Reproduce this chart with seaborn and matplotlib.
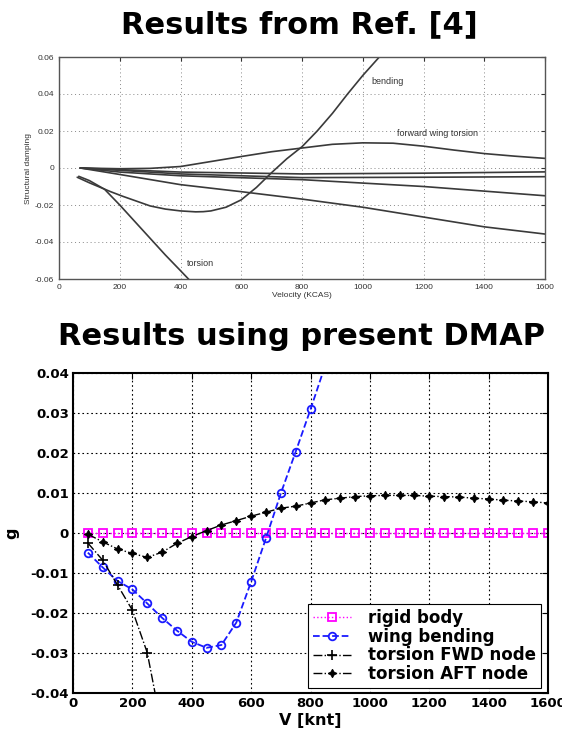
import numpy as np
import pandas as pd
import matplotlib
matplotlib.use('Agg')
import matplotlib.pyplot as plt
import seaborn as sns

# --- top panel: curves read from Ref. [4] (gray scan) ---
ref_bending_v = [60, 100, 170, 210, 300, 350, 400, 450, 475, 500, 550, 600, 650, 700, 750, 800, 850, 900, 950, 1000, 1060]
ref_bending_g = [-0.005, -0.008, -0.0128, -0.0153, -0.0205, -0.0222, -0.0232, -0.0237, -0.0236, -0.0232, -0.0212, -0.0172, -0.0105, -0.0025, 0.005, 0.0115, 0.020, 0.0295, 0.040, 0.050, 0.061]

ref_torsion_v = [65, 100, 150, 200, 250, 300, 350, 400, 435]
ref_torsion_g = [-0.0045, -0.0068, -0.0115, -0.020, -0.029, -0.038, -0.047, -0.0555, -0.0615]

ref_fwd_v = [70, 200, 300, 400, 500, 600, 700, 800, 900, 1000, 1100, 1200, 1300, 1400, 1500, 1600]
ref_fwd_g = [0.0, -0.0004, -0.0002, 0.0008, 0.0035, 0.0062, 0.0088, 0.0108, 0.0128, 0.0136, 0.0134, 0.0118, 0.0097, 0.0078, 0.0064, 0.0052]

ref_m1_v = [70, 400, 800, 1200, 1600]
ref_m1_g = [0.0, -0.0022, -0.0032, -0.0028, -0.0021]

ref_m2_v = [70, 400, 800, 1200, 1600]
ref_m2_g = [0.0, -0.0032, -0.0052, -0.0050, -0.0047]

ref_m3_v = [70, 200, 400, 800, 1200, 1600]
ref_m3_g = [0.0, -0.0022, -0.0042, -0.0063, -0.0100, -0.0150]

ref_m4_v = [70, 200, 400, 600, 800, 1000, 1200, 1400, 1600]
ref_m4_g = [0.0, -0.0035, -0.0090, -0.0128, -0.0168, -0.0212, -0.0265, -0.0318, -0.0357]

# --- bottom panel: present DMAP results ---
v_knt = np.arange(50, 1601, 50)
rigid_g = np.zeros(len(v_knt))

bend_v = [50, 100, 150, 200, 250, 300, 350, 400, 450, 500, 550, 600, 650, 700, 750, 800, 850]
bend_g = [-0.0049, -0.0086, -0.0120, -0.0141, -0.0176, -0.0212, -0.0244, -0.0272, -0.0287, -0.0280,
          -0.0224, -0.0122, -0.0013, 0.0099, 0.0203, 0.0309, 0.0420]

fwd_v = [50, 100, 150, 200, 250, 300]
fwd_g = [-0.0025, -0.0068, -0.0130, -0.0193, -0.0299, -0.0490]

aft_g = [-0.0003, -0.0022, -0.0040, -0.0051, -0.0061, -0.0048, -0.0026, -0.0009, 0.0006, 0.0020,
         0.0031, 0.0042, 0.0052, 0.0062, 0.0067, 0.0075, 0.0083, 0.0087, 0.0091, 0.0093,
         0.0094, 0.0094, 0.0094, 0.0092, 0.0091, 0.0090, 0.0087, 0.0085, 0.0082, 0.0080,
         0.0078, 0.0075]

sns.set_style('white')
plt.rcParams['font.family'] = ['DejaVu Sans']
plt.rcParams['text.color'] = 'black'
plt.rcParams['axes.labelcolor'] = 'black'
plt.rcParams['xtick.color'] = 'black'
plt.rcParams['ytick.color'] = 'black'

fig = plt.figure(figsize=(5.62, 7.36), dpi=100)

# ---------------- top panel ----------------
ax1 = fig.add_axes([59 / 562, 1 - 279 / 736, (545 - 59) / 562, (279 - 57) / 736])
gray = '#3a3a3a'
for vv, gg in [(ref_bending_v, ref_bending_g), (ref_torsion_v, ref_torsion_g), (ref_fwd_v, ref_fwd_g),
               (ref_m1_v, ref_m1_g), (ref_m2_v, ref_m2_g), (ref_m3_v, ref_m3_g), (ref_m4_v, ref_m4_g)]:
    sns.lineplot(x=vv, y=gg, ax=ax1, color=gray, linewidth=1.2, sort=False, estimator=None)
ax1.set_xlim(0, 1600)
ax1.set_ylim(-0.06, 0.06)
ax1.set_xticks(range(0, 1601, 200))
ax1.set_yticks([-0.06, -0.04, -0.02, 0, 0.02, 0.04, 0.06])
ax1.set_yticklabels(['-0.06', '-0.04', '-0.02', '0', '0.02', '0.04', '0.06'])
ax1.grid(True, linestyle=(0, (1, 3)), color='#888888', linewidth=0.7)
ax1.tick_params(direction='in', length=3, labelsize=6, colors='#333333', top=True, right=True,
                labelfontfamily='Liberation Sans')
for sp in ax1.spines.values():
    sp.set_color('#555555')
    sp.set_linewidth(1.0)
ax1.set_xlabel('Velocity (KCAS)', fontsize=6, family='Liberation Sans', color='#333333', labelpad=1)
ax1.set_ylabel('Structural damping', fontsize=6, family='Liberation Sans', color='#333333', labelpad=2)
ax1.text(1030, 0.0468, 'bending', fontsize=6.5, family='Liberation Sans', color='#333333', va='center')
ax1.text(1114, 0.0184, 'forward wing torsion', fontsize=6.5, family='Liberation Sans', color='#333333', va='center')
ax1.text(421, -0.0514, 'torsion', fontsize=6.5, family='Liberation Sans', color='#333333', va='center')

fig.text(299 / 562, 1 - 25 / 736, 'Results from Ref. [4]', ha='center', va='center',
         fontsize=22, fontweight='bold', color='black')

# ---------------- bottom panel ----------------
ax2 = fig.add_axes([73 / 562, 1 - 693 / 736, (548 - 73) / 562, (693 - 373) / 736])
sns.lineplot(x=v_knt, y=rigid_g, ax=ax2, color='#ff00ff', linestyle=':', linewidth=1.0,
             marker='s', markersize=6, markerfacecolor='none', markeredgecolor='#ff00ff',
             markeredgewidth=1.3, label='rigid body')
sns.lineplot(x=bend_v, y=bend_g, ax=ax2, color='#1a1aff', linestyle='--', linewidth=1.3,
             marker='o', markersize=5.5, markerfacecolor='none', markeredgecolor='#1a1aff',
             markeredgewidth=1.3, label='wing bending')
sns.lineplot(x=fwd_v, y=fwd_g, ax=ax2, color='black', linestyle='-.', linewidth=1.0,
             marker='+', markersize=7, markeredgecolor='black', markeredgewidth=1.2,
             label='torsion FWD node')
sns.lineplot(x=v_knt, y=aft_g, ax=ax2, color='black', linestyle='-.', linewidth=1.0,
             marker=(4, 1, 0), markersize=6, markerfacecolor='black', markeredgecolor='black',
             label='torsion AFT node')
ax2.set_xlim(0, 1600)
ax2.set_ylim(-0.04, 0.04)
ax2.set_xticks(range(0, 1601, 200))
ax2.set_yticks([-0.04, -0.03, -0.02, -0.01, 0, 0.01, 0.02, 0.03, 0.04])
ax2.set_yticklabels(['-0.04', '-0.03', '-0.02', '-0.01', '0', '0.01', '0.02', '0.03', '0.04'])
ax2.grid(True, linestyle=(0, (1.5, 2.5)), color='black', linewidth=0.8)
ax2.tick_params(direction='in', length=4, labelsize=9.5, top=True, right=True, pad=3)
for lab in ax2.get_xticklabels() + ax2.get_yticklabels():
    lab.set_fontweight('bold')
for sp in ax2.spines.values():
    sp.set_color('black')
    sp.set_linewidth(1.5)
ax2.set_xlabel('V [knt]', fontsize=11.5, fontweight='bold', labelpad=2)
ax2.set_ylabel('g', fontsize=11.5, fontweight='bold', labelpad=8)
leg = ax2.legend(loc='lower right', bbox_to_anchor=(0.985, 0.015), borderaxespad=0,
                 frameon=True, fancybox=False, framealpha=1, edgecolor='black', handlelength=2.3,
                 labelspacing=0.05, borderpad=0.3, handletextpad=1.0,
                 prop={'weight': 'bold', 'size': 12})
leg.get_frame().set_linewidth(0.8)

fig.text(302 / 562, 1 - 337 / 736, 'Results using present DMAP', ha='center', va='center',
         fontsize=22, fontweight='bold', color='black')

fig.savefig('out.png', dpi=100)
